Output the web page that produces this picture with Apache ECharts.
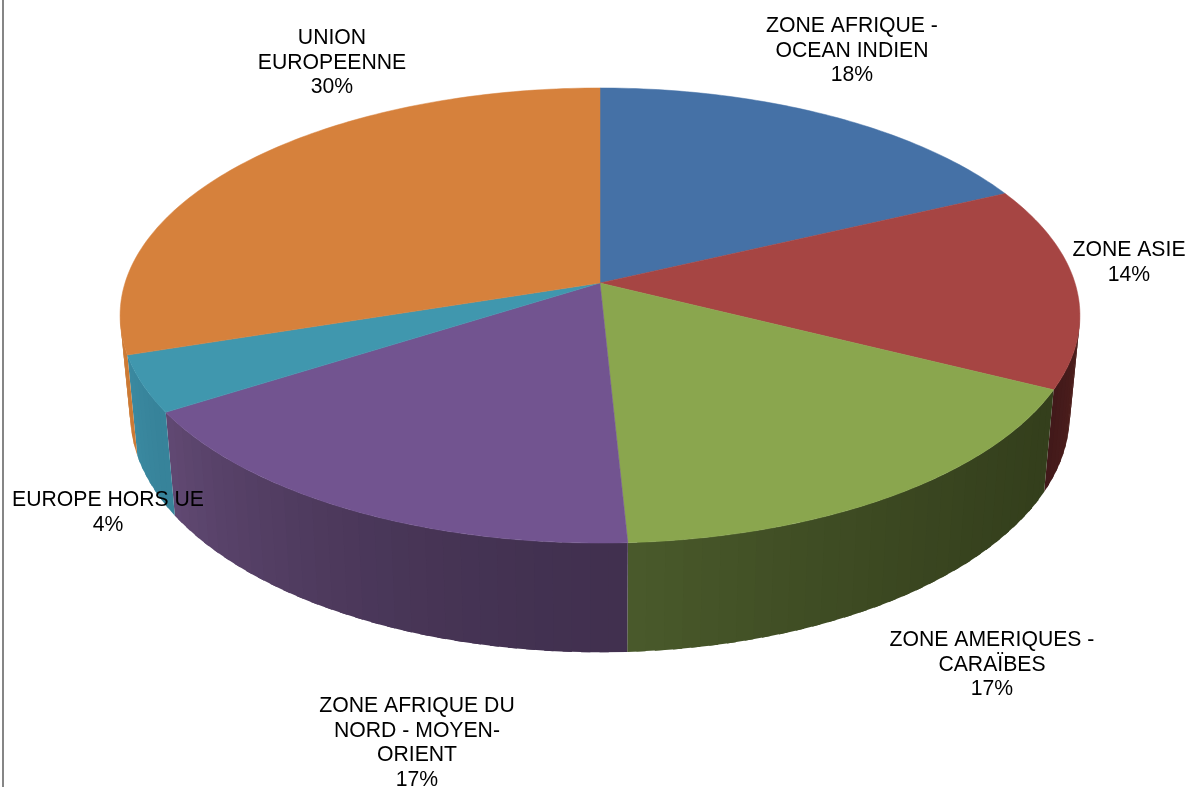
<!DOCTYPE html>
<html>
<head>
<meta charset="utf-8">
<title>Répartition par zone</title>
<script src="https://cdn.jsdelivr.net/npm/echarts@6/dist/echarts.min.js"></script>
<style>
html, body { margin: 0; padding: 0; background: #fff; }
#main { width: 1189px; height: 787px; }
</style>
</head>
<body>
<div id="main"></div>
<script>
// data, clockwise from 12 o'clock
var categories = ['ZONE AFRIQUE -\nOCEAN INDIEN', 'ZONE ASIE', 'ZONE AMERIQUES -\nCARAÏBES', 'ZONE AFRIQUE DU\nNORD - MOYEN-\nORIENT', 'EUROPE HORS UE', 'UNION\nEUROPEENNE'];
var values = [18.0, 14.4, 16.8, 16.8, 4.0, 30.0];

// styles
var topColors = ['#4571a6', '#a64543', '#8aa64e', '#725490', '#4097ae', '#d6813c'];
var wallFrom = ['#2a4464', '#4d1f1c', '#343f1c', '#41304f', '#37839a', '#cc7a35'];
var wallTo = ['#2a4464', '#41181a', '#4a5a2b', '#614973', '#3b8aa1', '#cc7a35'];
// label centre x and first line centre y
var labelPos = [[852, 26], [1129, 250], [992, 640], [417, 706], [108, 500], [332, 38]];

// perspective of the disc: top rim and bottom rim
var persp = 1 / 7;
var topRim = { cx: 600, cy: 283, a: 475, b: 222.9 };
var bottomRim = { cx: 600, cy: 380.5, a: 465, b: 233 };

var total = values.reduce(function (s, v) { return s + v; }, 0);

var project = function (rim, angle) {
	var X = Math.sin(angle), Y = -Math.cos(angle);
	var w = 1 - persp * Y;
	return [rim.cx + rim.a * X / w, rim.cy + rim.b * Y / w];
};

var sliceAngles = function (index) {
	var before = 0;
	for (var i = 0; i < index; i++) { before += values[i]; }
	return [before / total * Math.PI * 2, (before + values[index]) / total * Math.PI * 2];
};

var mix = function (c1, c2, t) {
	var out = '#';
	for (var i = 1; i < 7; i += 2) {
		var a = parseInt(c1.substr(i, 2), 16), b = parseInt(c2.substr(i, 2), 16);
		var v = Math.round(a + (b - a) * t).toString(16);
		out += v.length < 2 ? '0' + v : v;
	}
	return out;
};

// only the front part of the side is visible
var wallStart = Math.acos(-persp);
var wallEnd = Math.PI * 2 - wallStart;

var renderWall = function (params, api) {
	var i = params.dataIndex;
	api.value(0);
	var ang = sliceAngles(i);
	var from = Math.max(ang[0], wallStart), to = Math.min(ang[1], wallEnd);
	if (to <= from) { return { type: 'group', children: [] }; }
	var n = Math.max(1, Math.ceil((to - from) / (Math.PI / 90)));
	var step = (to - from) / n;
	var children = [];
	for (var k = 0; k < n; k++) {
		var a0 = from + step * k;
		// each band runs on under the next one so no seam shows
		var a1 = k < n - 1 ? a0 + step * 1.5 : to;
		children.push({
			type: 'polygon',
			shape: { points: [project(topRim, a0), project(topRim, a1), project(bottomRim, a1), project(bottomRim, a0)] },
			style: { fill: mix(wallFrom[i], wallTo[i], Math.pow((k + 0.5) / n, 1.6)) }
		});
	}
	return { type: 'group', children: children };
};

var renderTop = function (params, api) {
	var i = params.dataIndex;
	api.value(0);
	var ang = sliceAngles(i);
	var points = [[topRim.cx, topRim.cy]];
	var n = Math.ceil((ang[1] - ang[0]) / (Math.PI / 180));
	for (var k = 0; k <= n; k++) {
		points.push(project(topRim, ang[0] + (ang[1] - ang[0]) * k / n));
	}
	return {
		type: 'polygon',
		shape: { points: points },
		style: { fill: topColors[i], stroke: topColors[i], lineWidth: 0.5 }
	};
};

var renderLabel = function (params, api) {
	var i = params.dataIndex;
	return {
		type: 'text',
		x: labelPos[i][0],
		y: labelPos[i][1] - 12,
		style: {
			text: categories[i] + '\n' + Math.round(api.value(0) / total * 100) + '%',
			fill: '#000',
			font: '21.2px "Liberation Sans", Arial, sans-serif',
			lineHeight: 24.6,
			align: 'center',
			verticalAlign: 'top'
		}
	};
};

var chart = echarts.init(document.getElementById('main'));
chart.setOption({
	animation: false,
	backgroundColor: '#fff',
	tooltip: { show: false },
	graphic: [{
		type: 'rect',
		shape: { x: 2, y: 0, width: 2, height: 787 },
		style: { fill: '#868686' }
	}],
	series: [
		{ type: 'custom', coordinateSystem: 'none', silent: true, z: 1, renderItem: renderWall, data: values },
		{ type: 'custom', coordinateSystem: 'none', silent: true, z: 2, renderItem: renderTop, data: values },
		{ type: 'custom', coordinateSystem: 'none', silent: true, z: 3, renderItem: renderLabel, data: values }
	]
});
</script>
</body>
</html>
